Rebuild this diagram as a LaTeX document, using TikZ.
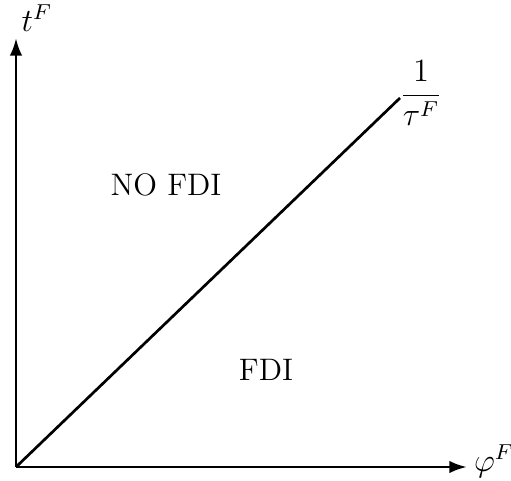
\documentclass[tikz,border=0pt]{standalone}
\usepackage{amsmath}
\usetikzlibrary{arrows.meta}
\begin{document}
\begin{tikzpicture}[x=0.37pt,y=-0.37pt,
  axis/.style={line width=1.05pt,-{Latex[length=6.5pt,width=4.6pt]}},
  lbl/.style={inner sep=0pt,font=\fontsize{11.5}{14}\selectfont}]
\useasboundingbox (0,0) rectangle (511,481);
\coordinate (O) at (16,467);
\coordinate (Y) at (16,38);
\coordinate (X) at (467,467);
\coordinate (L) at (400,98);
\draw[axis] (O) -- (Y);
\draw[axis] (O) -- (X);
\draw[line width=1pt] (O) -- (L);
\node[lbl] (t) at (37,18) {$t^F$};
\node[lbl] (phi) at (494,461) {$\varphi^F$};
\node[lbl] (tau) at (421,93) {$\dfrac{1}{\tau^F}$};
\node[lbl] (nofdi) at (166,185) {NO FDI};
\node[lbl] (fdi) at (266,370) {FDI};
\end{tikzpicture}
\end{document}
